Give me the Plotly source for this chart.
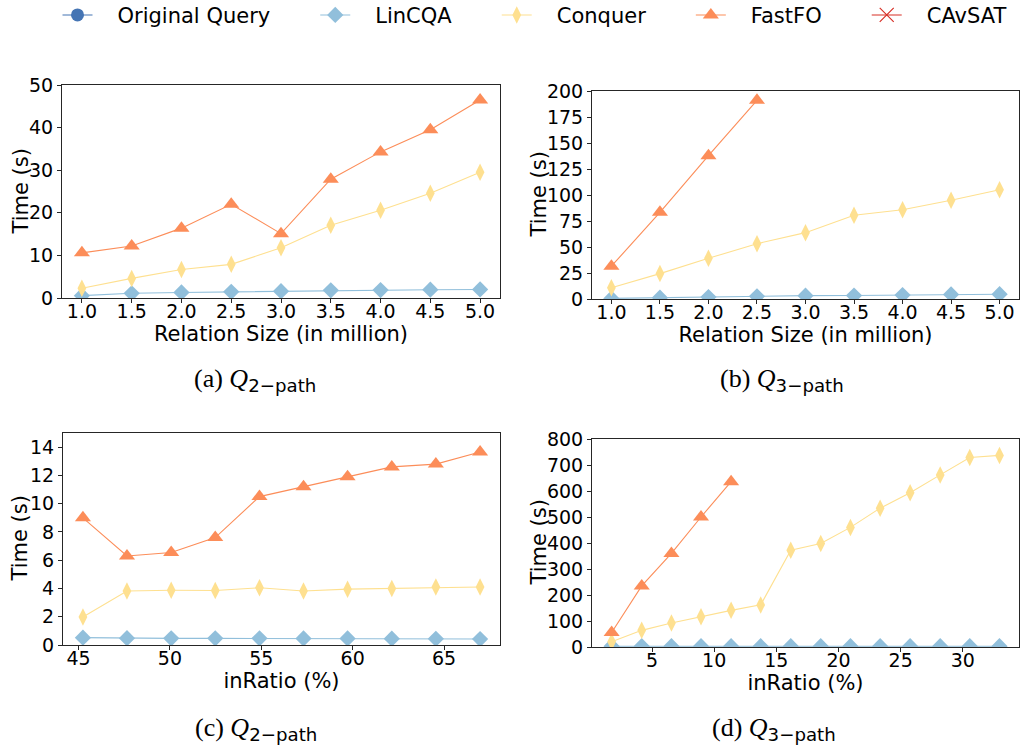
import plotly.graph_objects as go

# ---------------- data ----------------
size_x = [1.0, 1.5, 2.0, 2.5, 3.0, 3.5, 4.0, 4.5, 5.0]
fastfo_x_small = [1.0, 1.5, 2.0, 2.5]

a_lincqa = [0.55, 1.1, 1.3, 1.45, 1.6, 1.8, 1.85, 1.95, 2.0]
a_conquer = [2.3, 4.6, 6.7, 7.9, 11.8, 17.1, 20.6, 24.6, 29.5]
a_fastfo = [10.6, 12.2, 16.4, 22.0, 15.1, 27.9, 34.3, 39.5, 46.5]

b_lincqa = [0.6, 1.3, 1.9, 2.6, 3.2, 3.3, 3.8, 4.4, 4.6]
b_conquer = [10.9, 24.4, 39.1, 53.2, 63.8, 80.6, 85.8, 94.9, 105.1]
b_fastfo = [31.5, 83.3, 137.8, 191.0]

c_x = [45.24, 47.65, 50.07, 52.48, 54.90, 57.31, 59.72, 62.14, 64.55, 66.97]
c_lincqa = [0.52, 0.48, 0.47, 0.47, 0.47, 0.46, 0.46, 0.45, 0.44, 0.42]
c_conquer = [1.98, 3.82, 3.87, 3.86, 4.05, 3.82, 3.95, 4.0, 4.1, 4.1]
c_fastfo = [9.0, 6.3, 6.55, 7.6, 10.5, 11.2, 11.9, 12.6, 12.8, 13.65]

d_x = [1.75, 4.17, 6.56, 8.94, 11.36, 13.74, 16.16, 18.57, 20.96, 23.35, 25.76, 28.18, 30.56, 32.95]
d_fastfo_x = [1.75, 4.17, 6.56, 8.94, 11.36]
d_lincqa = [3, 3, 3, 3, 3, 3, 3, 3, 3, 3, 3, 3, 3, 3]
d_conquer = [20, 64, 92, 116, 141, 162, 372, 398, 460, 534, 593, 662, 729, 737]
d_fastfo = [56, 235, 360, 500, 636]

series_names = ["Original Query", "LinCQA", "Conquer", "FastFO", "CAvSAT"]
captions = ["(a)", "(b)", "(c)", "(d)"]
cap_sub = ["2−path", "3−path", "2−path", "3−path"]
y_title = "Time (s)"

# ---------------- styles ----------------
C_ORIG = "#4575b4"
C_LIN = "#91bfdb"
C_CONQ = "#fee090"
C_FAST = "#fc8d59"
C_CAV = "#d73027"

FONT = "DejaVu Sans"
NB = "\u00a0"


def leg(name, last=False):
    return NB * 3 + name + ("" if last else NB * 6)


fig = go.Figure()

domains = {
    "a": dict(x=[62 / 1021, 500 / 1021], y=[1 - 298 / 746, 1 - 85 / 746]),
    "b": dict(x=[592 / 1021, 1019 / 1021], y=[1 - 299 / 746, 1 - 91 / 746]),
    "c": dict(x=[63 / 1021, 500 / 1021], y=[1 - 645 / 746, 1 - 433 / 746]),
    "d": dict(x=[592 / 1021, 1019 / 1021], y=[1 - 647 / 746, 1 - 439 / 746]),
}
axes = {"a": ("x", "y"), "b": ("x2", "y2"), "c": ("x3", "y3"), "d": ("x4", "y4")}
label_axes = {"a": "x5", "b": "x6", "c": "x7", "d": "x8"}
panel_x = {"a": size_x, "b": size_x, "c": c_x, "d": d_x}
panel_lin = {"a": a_lincqa, "b": b_lincqa, "c": c_lincqa, "d": d_lincqa}


def add(panel, x, y, name, color, symbol, size, legend=False):
    xa, ya = axes[panel]
    fig.add_trace(go.Scatter(
        x=x, y=y, mode="lines+markers", name=name, xaxis=xa, yaxis=ya,
        line=dict(color=color, width=1.1),
        marker=dict(color=color, symbol=symbol, size=size, line=dict(width=0)),
        showlegend=legend, legendgroup=name,
    ))


fig.add_trace(go.Scatter(x=[None], y=[None], mode="lines+markers", name=leg(series_names[0]),
                         line=dict(color=C_ORIG, width=1.1),
                         marker=dict(color=C_ORIG, symbol="circle", size=13)))

add("a", size_x, a_lincqa, leg(series_names[1]), C_LIN, "diamond", 12.5, legend=True)
add("a", size_x, a_conquer, leg(series_names[2]), C_CONQ, "diamond-tall", 12.5, legend=True)
add("a", size_x, a_fastfo, leg(series_names[3]), C_FAST, "triangle-up", 14, legend=True)

fig.add_trace(go.Scatter(x=[None], y=[None], mode="lines+markers", name=leg(series_names[4], last=True),
                         line=dict(color=C_CAV, width=1.1),
                         marker=dict(color=C_CAV, symbol="x-thin", size=14,
                                     line=dict(color=C_CAV, width=1.2))))

add("b", size_x, b_lincqa, series_names[1], C_LIN, "diamond", 12.5)
add("b", size_x, b_conquer, series_names[2], C_CONQ, "diamond-tall", 12.5)
add("b", fastfo_x_small, b_fastfo, series_names[3], C_FAST, "triangle-up", 14)

add("c", c_x, c_lincqa, series_names[1], C_LIN, "diamond", 12.5)
add("c", c_x, c_conquer, series_names[2], C_CONQ, "diamond-tall", 12.5)
add("c", c_x, c_fastfo, series_names[3], C_FAST, "triangle-up", 14)

add("d", d_x, d_lincqa, series_names[1], C_LIN, "diamond", 12.5)
add("d", d_x, d_conquer, series_names[2], C_CONQ, "diamond-tall", 12.5)
add("d", d_fastfo_x, d_fastfo, series_names[3], C_FAST, "triangle-up", 14)

# invisible copies so that the tick-label axes get drawn
for p in ["a", "b", "c", "d"]:
    fig.add_trace(go.Scatter(x=panel_x[p], y=panel_lin[p], xaxis=label_axes[p], yaxis=axes[p][1],
                             mode="lines", opacity=0, showlegend=False, hoverinfo="skip",
                             line=dict(width=0)))

LINE_C = "#262626"
tick_font = dict(family=FONT, size=19, color="black")
title_font = dict(family=FONT, size=21, color="black")
axis_common = dict(showline=True, mirror=True, linecolor=LINE_C, linewidth=1.1,
                   ticks="outside", ticklen=4, tickcolor=LINE_C, tickwidth=1,
                   showgrid=False, zeroline=False, tickfont=tick_font, automargin=False)

x_titles = {"a": "Relation Size (in million)", "b": "Relation Size (in million)",
            "c": "inRatio (%)", "d": "inRatio (%)"}
x_ranges = {"a": [0.8, 5.2], "b": [0.8, 5.2], "c": [44.15, 68.06], "d": [0.17, 34.52]}
x_ticks = {"a": dict(tickvals=size_x, tickformat=".1f"), "b": dict(tickvals=size_x, tickformat=".1f"),
           "c": dict(dtick=5, tick0=0), "d": dict(dtick=5, tick0=0)}
y_ranges = {"a": [0, 50], "b": [0, 200], "c": [0, 15], "d": [0, 800]}
y_dticks = {"a": 10, "b": 25, "c": 2, "d": 100}


def key(ax, kind):
    return kind + ("" if len(ax) == 1 else ax[1:])


layout_axes = {}
for p in ["a", "b", "c", "d"]:
    xa, ya = axes[p]
    la = label_axes[p]
    layout_axes[key(xa, "xaxis")] = dict(axis_common, domain=domains[p]["x"], anchor=ya,
                                         range=x_ranges[p], showticklabels=False, **x_ticks[p])
    layout_axes[key(la, "xaxis")] = dict(overlaying=xa, anchor=ya, side="bottom",
                                         range=x_ranges[p], showline=False, ticks="",
                                         showgrid=False, zeroline=False, tickfont=tick_font,
                                         automargin=False,
                                         title=dict(text=x_titles[p], font=title_font, standoff=3),
                                         **x_ticks[p])
    layout_axes[key(ya, "yaxis")] = dict(axis_common, domain=domains[p]["y"], anchor=xa,
                                         range=y_ranges[p], dtick=y_dticks[p], tick0=0)

annotations = []
# y-axis titles
ytitle_pos = [(20, 191.5), (538.5, 195), (19.5, 539), (538.5, 543)]
for (px, py) in ytitle_pos:
    annotations.append(dict(
        xref="paper", yref="paper", x=px / 1021, y=1 - py / 746, xanchor="center", yanchor="middle",
        showarrow=False, textangle=-90, text=y_title, font=title_font,
    ))

cap_pos = [(255 / 1021, 1 - 380 / 746), (782 / 1021, 1 - 380 / 746),
           (256 / 1021, 1 - 729 / 746), (774 / 1021, 1 - 729 / 746)]
for cap, sub, (cx, cy) in zip(captions, cap_sub, cap_pos):
    annotations.append(dict(
        xref="paper", yref="paper", x=cx, y=cy, xanchor="center", yanchor="middle",
        showarrow=False,
        text=f"{cap} <i>Q</i><sub><span style='font-family:DejaVu Sans'>{sub}</span></sub>",
        font=dict(family="Liberation Serif", size=26, color="black"),
    ))

fig.update_layout(
    width=1021, height=746,
    margin=dict(l=0, r=0, t=0, b=0, autoexpand=False),
    paper_bgcolor="white", plot_bgcolor="white",
    showlegend=True,
    legend=dict(orientation="h", x=57.5 / 1021, y=1.007, xanchor="left", yanchor="top",
                font=dict(family=FONT, size=21, color="black"),
                bgcolor="rgba(0,0,0,0)", itemsizing="trace"),
    annotations=annotations,
    **layout_axes,
)

fig.write_html("out.html")
